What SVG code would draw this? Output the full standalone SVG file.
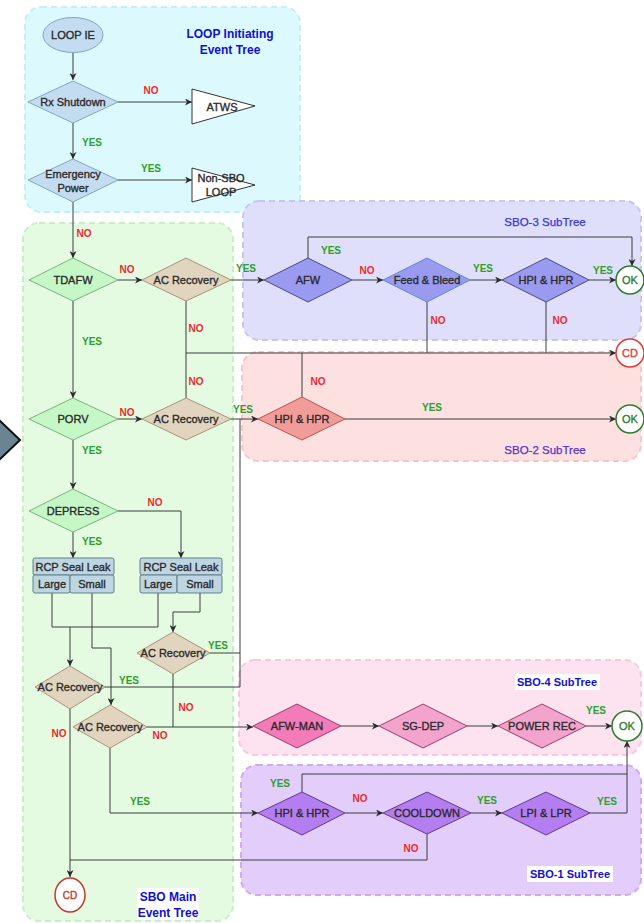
<svg xmlns="http://www.w3.org/2000/svg" width="644" height="923" viewBox="0 0 644 923">
<style>
.t{font-family:"Liberation Sans",Arial,sans-serif;font-size:11px;fill:#2a2a2a;stroke:#2a2a2a;stroke-width:0.35;text-anchor:middle;dominant-baseline:central}
.y{font-family:"Liberation Sans",Arial,sans-serif;font-size:10px;font-weight:bold;fill:#2ca02c;text-anchor:middle;dominant-baseline:central}
.n{font-family:"Liberation Sans",Arial,sans-serif;font-size:10px;font-weight:bold;fill:#f0282d;text-anchor:middle;dominant-baseline:central}
.ct{font-family:"Liberation Sans",Arial,sans-serif;font-size:12px;font-weight:bold;fill:#1010d0;text-anchor:middle;dominant-baseline:central}
.ct2{font-family:"Liberation Sans",Arial,sans-serif;font-size:11.5px;fill:#3535e0;stroke:#3535e0;stroke-width:0.25;text-anchor:middle;dominant-baseline:central}
.c{fill:none;stroke:#3a3f3a;stroke-width:1}
.ca{fill:none;stroke:#3a3f3a;stroke-width:1;marker-end:url(#ah)}
.gd{fill:#c6f7c6;stroke:#7fb07f}
.ac{fill:#e2d5bf;stroke:#a8927a}
.bd{fill:#c4dcf0;stroke:#7fa6c6}
.pd{fill:#9a9af0;stroke:#4a4a80}
.rcp{fill:#bed5e2;stroke:#657f8c;stroke-width:1}
.pk{fill:#f27bb8;stroke:#9a3d6a}
.pk2{fill:#f3a4cd;stroke:#9a3d6a}
.pu{fill:#b47ef0;stroke:#5f3a8a}
</style>
<defs>
<marker id="ah" viewBox="0 0 10 10" refX="10" refY="5" markerWidth="7" markerHeight="7" markerUnits="userSpaceOnUse" orient="auto">
<path d="M0,0 L10,5 L0,10 L3,5 z" fill="#2a2a2a"/>
</marker>
</defs>
<rect width="644" height="923" fill="#ffffff"/>
<!-- containers -->
<g id="containers">
<rect x="25" y="7" width="275" height="205" rx="16" fill="#dcfafe" stroke="#c2f0f8" stroke-width="2" stroke-dasharray="6 4"/>
<rect x="23" y="223" width="210" height="698" rx="16" fill="#e4fbe2" stroke="#c8f0c6" stroke-width="2" stroke-dasharray="6 4"/>
<rect x="243" y="201" width="398" height="139" rx="16" fill="#dfdffb" stroke="#c6c6f2" stroke-width="2" stroke-dasharray="6 4"/>
<rect x="242" y="352" width="399" height="109" rx="16" fill="#fde0e0" stroke="#f8c8c8" stroke-width="2" stroke-dasharray="6 4"/>
<rect x="239" y="660" width="402" height="95" rx="16" fill="#fde2f0" stroke="#f8c8e2" stroke-width="2" stroke-dasharray="6 4"/>
<rect x="241" y="765" width="400" height="130" rx="16" fill="#e3cdfb" stroke="#d0aaf4" stroke-width="2" stroke-dasharray="6 4"/>
<text class="ct" x="230" y="34">LOOP Initiating</text>
<text class="ct" x="230" y="50">Event Tree</text>
<text class="ct2" x="545" y="222">SBO-3 SubTree</text>
<text class="ct2" x="545" y="450" style="fill:#5533cc;stroke:#5533cc">SBO-2 SubTree</text>
<rect x="515" y="674" width="85" height="16" fill="#ffffff"/>
<text class="ct2" x="557" y="682" style="fill:#1010d0;stroke:none;font-weight:bold;font-size:11px">SBO-4 SubTree</text>
<rect x="527" y="866" width="86" height="16" fill="#ffffff"/>
<text class="ct2" x="570" y="874" style="fill:#1010d0;stroke:none;font-weight:bold;font-size:11px">SBO-1 SubTree</text>
<rect x="137" y="888" width="62" height="32" fill="#ffffff"/>
<text class="ct" x="168" y="897">SBO Main</text>
<text class="ct" x="168" y="913">Event Tree</text>
<polygon points="-22,400 20,440 -22,480" fill="#6b8493" stroke="#111" stroke-width="2"/>
</g>
<!-- connectors -->
<g id="connectors">
<path class="ca" d="M73,53 V80"/>
<path class="ca" d="M118,102 H192"/>
<path class="ca" d="M73,123 V159"/>
<path class="ca" d="M118,180 H192"/>
<path class="ca" d="M73,202 V258"/>
<path class="ca" d="M118,280 H142"/>
<path class="ca" d="M231,280 H264"/>
<path class="ca" d="M352,280 H383"/>
<path class="ca" d="M470,280 H502"/>
<path class="ca" d="M589,280 H616"/>
<path class="ca" d="M308,258 V237 H632 V266"/>
<path class="c" d="M427,302 V353"/>
<path class="c" d="M546,302 V353"/>
<path class="ca" d="M186,301 V353 H616"/>
<path class="c" d="M186,398 V353"/>
<path class="c" d="M302,397 V353"/>
<path class="ca" d="M73,301 V398"/>
<path class="ca" d="M118,419 H142"/>
<path class="ca" d="M231,419 H258"/>
<path class="ca" d="M345,419 H616"/>
<path class="c" d="M240,419 V687"/>
<path class="c" d="M210,653 H240"/>
<path class="c" d="M105,687 H240"/>
<path class="ca" d="M73,440 V489"/>
<path class="ca" d="M73,532 V558"/>
<path class="ca" d="M118,511 H181 V558"/>
<path class="c" d="M52,593 V627 H158 V593"/>
<path class="ca" d="M70,627 V666"/>
<path class="ca" d="M92,593 V648 H111 V705"/>
<path class="ca" d="M200,593 V612 H173 V632"/>
<path class="c" d="M173,674 V727"/>
<path class="ca" d="M147,727 H253"/>
<path class="ca" d="M341,726 H379"/>
<path class="ca" d="M467,726 H498"/>
<path class="ca" d="M586,726 H612"/>
<path class="ca" d="M70,709 V877"/>
<path class="ca" d="M110,748 V813 H258"/>
<path class="ca" d="M345,813 H383"/>
<path class="ca" d="M471,813 H502"/>
<path class="ca" d="M590,813 H627 V741"/>
<path class="c" d="M302,792 V774 H627"/>
<path class="c" d="M427,834 V860 H70"/>
<!-- labels -->
<text class="n" x="151" y="90">NO</text>
<text class="y" x="92" y="142">YES</text>
<text class="y" x="151" y="168">YES</text>
<text class="n" x="84" y="233">NO</text>
<text class="n" x="127" y="269">NO</text>
<text class="y" x="246" y="268">YES</text>
<text class="y" x="331" y="250">YES</text>
<text class="n" x="367" y="270">NO</text>
<text class="y" x="483" y="268">YES</text>
<text class="y" x="603" y="270">YES</text>
<text class="n" x="438" y="320">NO</text>
<text class="n" x="560" y="320">NO</text>
<text class="n" x="196" y="328">NO</text>
<text class="n" x="196" y="381">NO</text>
<text class="n" x="318" y="381">NO</text>
<text class="y" x="92" y="341">YES</text>
<text class="n" x="127" y="412">NO</text>
<text class="y" x="243" y="409">YES</text>
<text class="y" x="432" y="407">YES</text>
<text class="y" x="92" y="450">YES</text>
<text class="n" x="155" y="502">NO</text>
<text class="y" x="92" y="541">YES</text>
<text class="y" x="218" y="645">YES</text>
<text class="y" x="129" y="680">YES</text>
<text class="n" x="186" y="707">NO</text>
<text class="n" x="160" y="735">NO</text>
<text class="n" x="59" y="733">NO</text>
<text class="y" x="140" y="801">YES</text>
<text class="y" x="596" y="710">YES</text>
<text class="y" x="280" y="783">YES</text>
<text class="n" x="360" y="798">NO</text>
<text class="y" x="487" y="800">YES</text>
<text class="y" x="607" y="801">YES</text>
<text class="n" x="411" y="848">NO</text>
</g>
<!-- nodes -->
<g id="loop-ie"><ellipse cx="73" cy="35" rx="30" ry="17.5" class="bd"/><text class="t" x="73" y="35">LOOP IE</text></g>
<g id="rx-shutdown"><polygon points="28,102 73,81 118,102 73,123" class="bd"/><text class="t" x="73" y="102">Rx Shutdown</text></g>
<g id="atws"><polygon points="192,89 255,106 192,124" fill="#ffffff" stroke="#333"/><text class="t" x="222" y="107">ATWS</text></g>
<g id="emergency-power"><polygon points="28,180 73,159 118,180 73,202" class="bd"/><text class="t" x="73" y="174">Emergency</text><text class="t" x="73" y="188">Power</text></g>
<g id="non-sbo"><polygon points="192,168 255,185 192,202" fill="#ffffff" stroke="#333"/><text class="t" x="221" y="178">Non-SBO</text><text class="t" x="221" y="192">LOOP</text></g>
<g id="tdafw"><polygon points="29,280 73,258 118,280 73,301" class="gd"/><text class="t" x="73" y="280">TDAFW</text></g>
<g id="ac-rec-1"><polygon points="142,280 186,258 231,280 186,301" class="ac"/><text class="t" x="186" y="280">AC Recovery</text></g>
<g id="afw"><polygon points="264,280 308,258 352,280 308,302" class="pd"/><text class="t" x="308" y="280">AFW</text></g>
<g id="feed-bleed"><polygon points="383,280 427,258 470,280 427,302" class="pd" style="stroke:#5a8ad0"/><text class="t" x="427" y="280">Feed &amp; Bleed</text></g>
<g id="hpi-hpr-3"><polygon points="502,280 546,258 589,280 546,302" class="pd"/><text class="t" x="546" y="280">HPI &amp; HPR</text></g>
<g id="ok-3"><circle cx="630" cy="280" r="14" fill="#ffffff" stroke="#2e7d32" stroke-width="1.5"/><text class="t" x="630" y="280" style="fill:#2e7d32;stroke:#2e7d32">OK</text></g>
<g id="cd-3"><circle cx="630" cy="353" r="14" fill="#ffffff" stroke="#e53935" stroke-width="1.5"/><text class="t" x="630" y="353" style="fill:#e53935;stroke:#e53935">CD</text></g>
<g id="porv"><polygon points="29,419 73,398 118,419 73,440" class="gd"/><text class="t" x="73" y="419">PORV</text></g>
<g id="ac-rec-2"><polygon points="142,419 186,398 231,419 186,440" class="ac"/><text class="t" x="186" y="419">AC Recovery</text></g>
<g id="hpi-hpr-2"><polygon points="258,419 302,397 345,419 302,440" fill="#f29c99" stroke="#b85450"/><text class="t" x="302" y="419">HPI &amp; HPR</text></g>
<g id="ok-2"><circle cx="630" cy="419" r="14" fill="#ffffff" stroke="#2e7d32" stroke-width="1.5"/><text class="t" x="630" y="419" style="fill:#2e7d32;stroke:#2e7d32">OK</text></g>
<g id="depress"><polygon points="29,511 73,489 118,511 73,532" class="gd"/><text class="t" x="73" y="511">DEPRESS</text></g>
<g id="rcp-1"><rect x="33" y="558" width="81" height="17" rx="2" class="rcp"/><rect x="33" y="575" width="37" height="18" rx="2" class="rcp"/><rect x="70" y="575" width="44" height="18" rx="2" class="rcp"/><text class="t" x="73" y="567">RCP Seal Leak</text><text class="t" x="52" y="584">Large</text><text class="t" x="92" y="584">Small</text></g>
<g id="rcp-2"><rect x="140" y="558" width="82" height="17" rx="2" class="rcp"/><rect x="140" y="575" width="37" height="18" rx="2" class="rcp"/><rect x="177" y="575" width="45" height="18" rx="2" class="rcp"/><text class="t" x="181" y="567">RCP Seal Leak</text><text class="t" x="158" y="584">Large</text><text class="t" x="200" y="584">Small</text></g>
<g id="ac-rec-c"><polygon points="137,653 173,632 210,653 173,674" class="ac"/><text class="t" x="173" y="653">AC Recovery</text></g>
<g id="ac-rec-a"><polygon points="35,687 70,666 105,687 70,709" class="ac"/><text class="t" x="70" y="687">AC Recovery</text></g>
<g id="ac-rec-b"><polygon points="73,727 110,705 147,727 110,748" class="ac"/><text class="t" x="110" y="727">AC Recovery</text></g>
<g id="cd-main"><ellipse cx="70" cy="895" rx="15" ry="17" fill="#ffffff" stroke="#c0392b" stroke-width="1.5"/><text class="t" x="70" y="895" style="fill:#c0392b;stroke:#c0392b;font-size:10px">CD</text></g>
<g id="afw-man"><polygon points="253,726 297,704 341,726 297,748" class="pk"/><text class="t" x="297" y="726">AFW-MAN</text></g>
<g id="sg-dep"><polygon points="379,726 423,704 467,726 423,748" class="pk2"/><text class="t" x="423" y="726">SG-DEP</text></g>
<g id="power-rec"><polygon points="498,726 542,704 586,726 542,748" class="pk2"/><text class="t" x="542" y="726">POWER REC</text></g>
<g id="ok-4"><circle cx="627" cy="726" r="15" fill="#ffffff" stroke="#2e7d32" stroke-width="1.5"/><text class="t" x="627" y="726" style="fill:#2e7d32;stroke:#2e7d32">OK</text></g>
<g id="hpi-hpr-1"><polygon points="258,813 302,792 345,813 302,835" class="pu"/><text class="t" x="302" y="813">HPI &amp; HPR</text></g>
<g id="cooldown"><polygon points="383,813 427,792 471,813 427,834" class="pu"/><text class="t" x="427" y="813">COOLDOWN</text></g>
<g id="lpi-lpr"><polygon points="502,813 546,792 590,813 546,835" class="pu"/><text class="t" x="546" y="813">LPI &amp; LPR</text></g>
</svg>
